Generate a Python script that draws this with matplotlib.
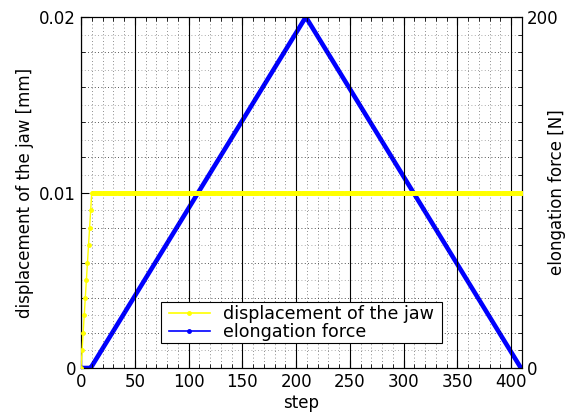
import matplotlib
matplotlib.use("Agg")
import matplotlib.pyplot as plt
from matplotlib.lines import Line2D
from matplotlib.patches import Rectangle
from matplotlib.ticker import MultipleLocator

# Jaw displacement per step [mm]: ramp to 0.01 mm, then held
disp_ramp = [0.0, 0.001, 0.002, 0.003, 0.004, 0.005, 0.006, 0.007, 0.008, 0.009, 0.01]
disp_hold = [0.01] * 400
displacement = disp_ramp + disp_hold
disp_steps = list(range(len(displacement)))

# Elongation force [N] sampled along the loading / unloading cycle
force_steps = [0, 9, 10, 20, 30, 40, 50, 60, 70, 80, 90, 100, 110, 120, 130, 140,
               150, 160, 170, 180, 190, 200, 209, 210, 220, 230, 240, 250, 260, 270,
               280, 290, 300, 310, 320, 330, 340, 350, 360, 370, 380, 390, 400, 409]
force = [0, 0, 1, 11, 21, 31, 41, 51, 61, 71, 81, 91, 101, 111, 121, 131,
         141, 151, 161, 171, 181, 191, 200, 199, 189, 179, 169, 159, 149, 139,
         129, 119, 109, 99, 89, 79, 69, 59, 49, 39, 29, 19, 9, 0]

x_ticks = [0, 50, 100, 150, 200, 250, 300, 350, 400]
left_ticks = [0, 0.01, 0.02]
left_labels = ["0", "0.01", "0.02"]
right_ticks = [0, 200]

plt.rcParams["font.family"] = "DejaVu Sans"
plt.rcParams["font.size"] = 12

fig = plt.figure(figsize=(5.72, 4.12), dpi=100)
ax = fig.add_axes([81 / 572, 44 / 412, 441 / 572, 351 / 412])
ax2 = ax.twinx()

ax.set_zorder(1)
ax.patch.set_visible(False)
ax2.set_zorder(0)

ax.plot(disp_steps, displacement, color="#ffff00", lw=1.0, marker=".",
        markersize=5, zorder=3)
ax2.plot(force_steps, force, color="#0000ff", lw=3.3, solid_capstyle="round",
         solid_joinstyle="round")

ax.set_xlim(0, 410)
ax.set_ylim(0, 0.02)
ax2.set_ylim(0, 200)

ax.set_xticks(x_ticks)
ax.set_yticks(left_ticks)
ax.set_yticklabels(left_labels)
ax2.set_yticks(right_ticks)
ax.xaxis.set_minor_locator(MultipleLocator(10))
ax.yaxis.set_minor_locator(MultipleLocator(0.002))

ax.tick_params(which="both", direction="in", top=True, right=False)
ax.tick_params(which="major", length=6)
ax.tick_params(which="minor", length=3)
ax2.tick_params(which="both", direction="in")
ax2.tick_params(which="major", length=6)
ax2.tick_params(which="minor", length=3)

# grid: solid verticals at major steps, dotted fine mesh
ax.grid(True, which="major", axis="x", color="black", lw=0.8, ls="-")
ax.grid(True, which="minor", axis="x", color="black", lw=0.6, ls=(0, (1, 3)), alpha=0.6)
ax.grid(True, which="minor", axis="y", color="black", lw=0.6, ls=(0, (1, 3)), alpha=0.6)
ax.grid(True, which="major", axis="y", color="black", lw=0.6, ls=(0, (1, 3)), alpha=0.6)
ax2.yaxis.set_minor_locator(MultipleLocator(10))
ax2.grid(True, which="minor", axis="y", color="black", lw=0.6, ls=(0, (1, 3)), alpha=0.45)

ax.set_xlabel("step", labelpad=2)
ax.set_ylabel("displacement of the jaw [mm]")
ax2.set_ylabel("elongation force [N]", ha="center", va="center")
ax2.yaxis.set_label_coords(1.08, 0.5)

handles = [
    Line2D([], [], color="#ffff00", lw=1.2, marker=".", markersize=5),
    Line2D([], [], color="#0000ff", lw=1.2, marker=".", markersize=5),
]
leg = ax.legend(handles, ["displacement of the jaw", "elongation force"],
                loc="lower center", bbox_to_anchor=(0.5, 0.07), frameon=False,
                borderpad=0.15, labelspacing=0.0, handlelength=2.3,
                handletextpad=0.75, borderaxespad=0, fontsize=12.6)
leg.set_zorder(5)

# legend frame with wider side margins than top/bottom
fig.canvas.draw()
bb = leg.get_window_extent()
pad_x = 6
frame = Rectangle((bb.x0 - pad_x, bb.y0), bb.width + 2 * pad_x, bb.height,
                  transform=None, facecolor="white", edgecolor="black",
                  lw=0.8, zorder=4)
ax.add_artist(frame)

fig.savefig("out.png", dpi=100)
